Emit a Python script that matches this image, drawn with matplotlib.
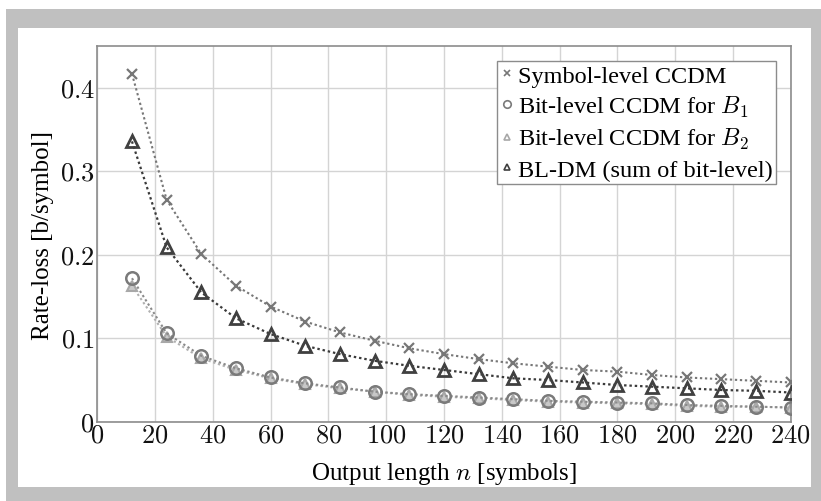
import matplotlib
matplotlib.use("Agg")
import matplotlib.pyplot as plt
from matplotlib.patches import Rectangle
from matplotlib.lines import Line2D
from matplotlib.ticker import FuncFormatter

n = [12, 24, 36, 48, 60, 72, 84, 96, 108, 120, 132, 144, 156, 168, 180, 192, 204, 216, 228, 240]
symbol_level = [0.417, 0.266, 0.201, 0.163, 0.138, 0.120, 0.107, 0.097, 0.088, 0.081,
                0.075, 0.070, 0.066, 0.062, 0.060, 0.056, 0.053, 0.051, 0.049, 0.047]
bit_b1 = [0.172, 0.106, 0.079, 0.064, 0.053, 0.046, 0.041, 0.036, 0.033, 0.031,
          0.029, 0.027, 0.025, 0.024, 0.023, 0.022, 0.020, 0.019, 0.018, 0.017]
bit_b2 = [0.163, 0.102, 0.076, 0.062, 0.052, 0.045, 0.040, 0.036, 0.032, 0.030,
          0.028, 0.026, 0.024, 0.023, 0.022, 0.021, 0.019, 0.018, 0.018, 0.017]
bl_dm = [0.336, 0.209, 0.155, 0.124, 0.105, 0.091, 0.081, 0.073, 0.067, 0.062,
         0.057, 0.052, 0.050, 0.047, 0.044, 0.042, 0.040, 0.038, 0.037, 0.035]
labels = ["Symbol-level CCDM", r"Bit-level CCDM for $B_1$",
          r"Bit-level CCDM for $B_2$", "BL-DM (sum of bit-level)"]
xticks = list(range(0, 241, 20))
yticks = [0, 0.1, 0.2, 0.3, 0.4]

plt.rcParams['font.family'] = ['Liberation Serif', 'DejaVu Serif']
plt.rcParams['mathtext.fontset'] = 'cm'

fig = plt.figure(figsize=(8.21, 5.02), dpi=100)
# gray outer frame and white inner panel
fig.patches.append(Rectangle((6/821, 0), 1, (502-10)/502, transform=fig.transFigure,
                             facecolor='#c0c0c0', edgecolor='none', zorder=-10))
fig.patches.append(Rectangle((18/821, 14/502), 793/821, 459/502, transform=fig.transFigure,
                             facecolor='white', edgecolor='none', zorder=-9))

ax = fig.add_axes([97.3/821, 1-422.7/502, (790.7-97.3)/821, (422.7-47.3)/502])
ax.set_facecolor('white')

ls = (0, (1.1, 1.3))
styles = [
    dict(color='#777777', marker='x', mec='#777777', mfc='#777777', ms=7, mew=1.6, lw=1.5, z=4),
    dict(color='#8a8a8a', marker='o', mec='#7a7a7a', mfc='none', ms=9, mew=1.8, lw=1.5, z=3),
    dict(color='#b0b0b0', marker='^', mec='#a8a8a8', mfc='#c8c8c8', ms=7, mew=1.5, lw=1.5, z=2),
    dict(color='#3a3a3a', marker='^', mec='#404040', mfc='none', ms=8, mew=2.0, lw=1.6, z=5),
]
series = [symbol_level, bit_b1, bit_b2, bl_dm]
handles = []
for ys, st, lab in zip(series, styles, labels):
    ax.plot(n, ys, linestyle=ls, color=st['color'], lw=st['lw'], marker=st['marker'],
            ms=st['ms'], mew=st['mew'], mfc=st['mfc'], mec=st['mec'], zorder=st['z'])
    handles.append(Line2D([], [], linestyle='none', marker=st['marker'], ms=st['ms'] * 0.6,
                          mew=1.2, mfc='none', mec=st['mec'], label=lab))

ax.set_xlim(0, 240)
ax.set_ylim(0, 0.45)
ax.set_xticks(xticks)
ax.set_yticks(yticks)
ax.xaxis.set_major_formatter(FuncFormatter(lambda v, p: r"$%d$" % v))
ax.yaxis.set_major_formatter(FuncFormatter(lambda v, p: "$0$" if v == 0 else r"$%.1f$" % v))
ax.tick_params(axis='both', which='both', length=0, labelsize=19, pad=2, colors='#111111')
ax.grid(True, color='#d4d4d4', lw=1.0)
ax.set_axisbelow(True)
for s in ax.spines.values():
    s.set_color('#8c8c8c')
    s.set_linewidth(1.2)

ax.set_xlabel(r"Output length $n$ [symbols]", fontsize=18, labelpad=10)
ax.set_ylabel("Rate-loss [b/symbol]", fontsize=18, labelpad=4)

leg = ax.legend(handles=handles, loc='upper right', fontsize=17.5, handlelength=0.5,
                handletextpad=0.2, borderpad=0.15, labelspacing=0.3, borderaxespad=0.6,
                fancybox=False, framealpha=1, edgecolor='#8c8c8c')
leg.get_frame().set_linewidth(1.0)

fig.savefig('out.png', dpi=100)
